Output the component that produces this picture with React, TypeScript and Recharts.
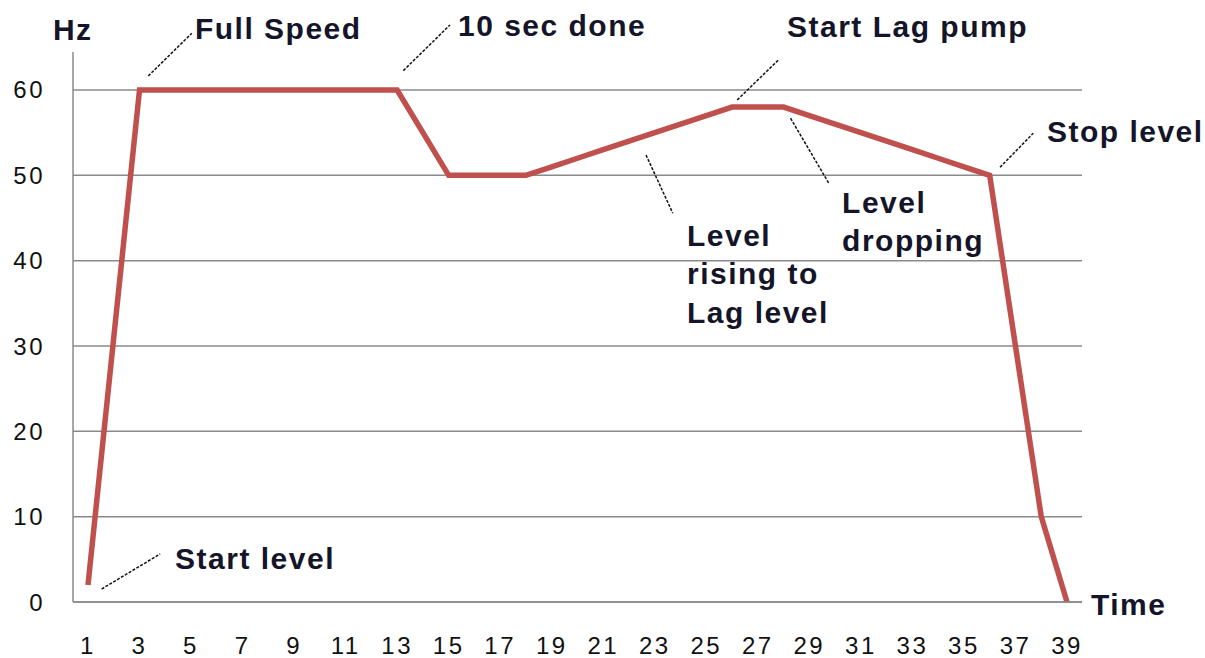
import React from 'react';
import { LineChart, Line, XAxis, YAxis, CartesianGrid, ReferenceLine, ReferenceDot } from 'recharts';

// ---- data ----
const times: number[] = [1, 2, 3, 4, 5, 6, 7, 8, 9, 10, 11, 12, 13, 14, 15, 16, 17, 18, 19, 20, 21, 22, 23, 24, 25, 26, 27, 28, 29, 30, 31, 32, 33, 34, 35, 36, 37, 38, 39];
const hz: number[] = [2, 31, 60, 60, 60, 60, 60, 60, 60, 60, 60, 60, 60, 55, 50, 50, 50, 50, 51, 52, 53, 54, 55, 56, 57, 58, 58, 58, 57, 56, 55, 54, 53, 52, 51, 50, 30, 10, 0];
const xTicks: number[] = [1, 3, 5, 7, 9, 11, 13, 15, 17, 19, 21, 23, 25, 27, 29, 31, 33, 35, 37, 39];
const yTicks: number[] = [0, 10, 20, 30, 40, 50, 60];

const data = times.map((t, i) => ({ t, hz: hz[i] }));

// annotations in data coordinates
const notes: { lines: string[]; x: number; y: number }[] = [
  { lines: ['Hz'], x: -0.36, y: 65.86 },
  { lines: ['Full Speed'], x: 5.15, y: 65.92 },
  { lines: ['10 sec done'], x: 15.36, y: 66.33 },
  { lines: ['Start Lag pump'], x: 28.13, y: 66.21 },
  { lines: ['Stop level'], x: 38.22, y: 53.94 },
  { lines: ['Level', 'dropping'], x: 30.27, y: 45.59 },
  { lines: ['Level', 'rising to', 'Lag level'], x: 24.25, y: 41.76 },
  { lines: ['Start level'], x: 4.38, y: 3.87 },
  { lines: ['Time'], x: 39.93, y: -1.52 },
];

const leaders: [number, number, number, number][] = [
  [1.53, 1.52, 3.8, 5.63],
  [3.34, 61.64, 5.03, 66.65],
  [13.24, 62.27, 15.05, 67.62],
  [26.2, 58.83, 27.8, 63.52],
  [22.66, 52.38, 23.7, 45.55],
  [28.27, 56.69, 29.77, 48.99],
  [36.4, 50.94, 37.69, 54.93],
];

const FONT = '"Liberation Sans", Arial, sans-serif';

const makeShape = (lines: string[]) => (props: any) => (
  <text
    x={props.cx}
    y={props.cy}
    fontFamily={FONT}
    fontWeight="bold"
    fontSize={30}
    letterSpacing={1.5}
    fill="#15152a"
  >
    {lines.map((l, i) => (
      <tspan key={i} x={props.cx} dy={i === 0 ? 0 : 38.5}>
        {l}
      </tspan>
    ))}
  </text>
);

export default function App() {
  return (
    <div style={{ position: 'absolute', left: 0, top: 0, width: 1205, height: 658, background: '#fff', fontFamily: FONT }}>
      <LineChart width={1205} height={658} data={data} margin={{ top: 52, right: 123, bottom: 0, left: 0 }}>
        <CartesianGrid vertical={false} horizontalValues={yTicks} stroke="#8a8a8a" strokeWidth={1.5} />
        <XAxis
          dataKey="t"
          type="number"
          domain={[0.418, 39.582]}
          allowDataOverflow
          ticks={xTicks}
          interval={0}
          height={56}
          tickLine={false}
          tickSize={0}
          tickMargin={35}
          axisLine={{ stroke: '#8a8a8a', strokeWidth: 1.5 }}
          tick={{ fontSize: 24, fill: '#111', fontFamily: FONT, letterSpacing: 2.5 }}
        />
        <YAxis
          type="number"
          domain={[0, 64.45]}
          allowDataOverflow
          ticks={yTicks}
          interval={0}
          width={73}
          tickLine={false}
          tickSize={0}
          tickMargin={28}
          axisLine={{ stroke: '#8a8a8a', strokeWidth: 1.5 }}
          tick={{ fontSize: 24, fill: '#111', fontFamily: FONT, letterSpacing: 2.5 }}
        />
        {leaders.map((s, i) => (
          <ReferenceLine
            key={'l' + i}
            segment={[{ x: s[0], y: s[1] }, { x: s[2], y: s[3] }]}
            stroke="#111"
            strokeWidth={1.5}
            strokeDasharray="3 1.5"
            ifOverflow="visible"
          />
        ))}
        <Line
          type="linear"
          dataKey="hz"
          stroke="#C0504D"
          strokeWidth={5.5}
          dot={false}
          activeDot={false}
          isAnimationActive={false}
        />
        {notes.map((n, i) => (
          <ReferenceDot key={'n' + i} x={n.x} y={n.y} r={0} ifOverflow="visible" shape={makeShape(n.lines)} />
        ))}
      </LineChart>
    </div>
  );
}
